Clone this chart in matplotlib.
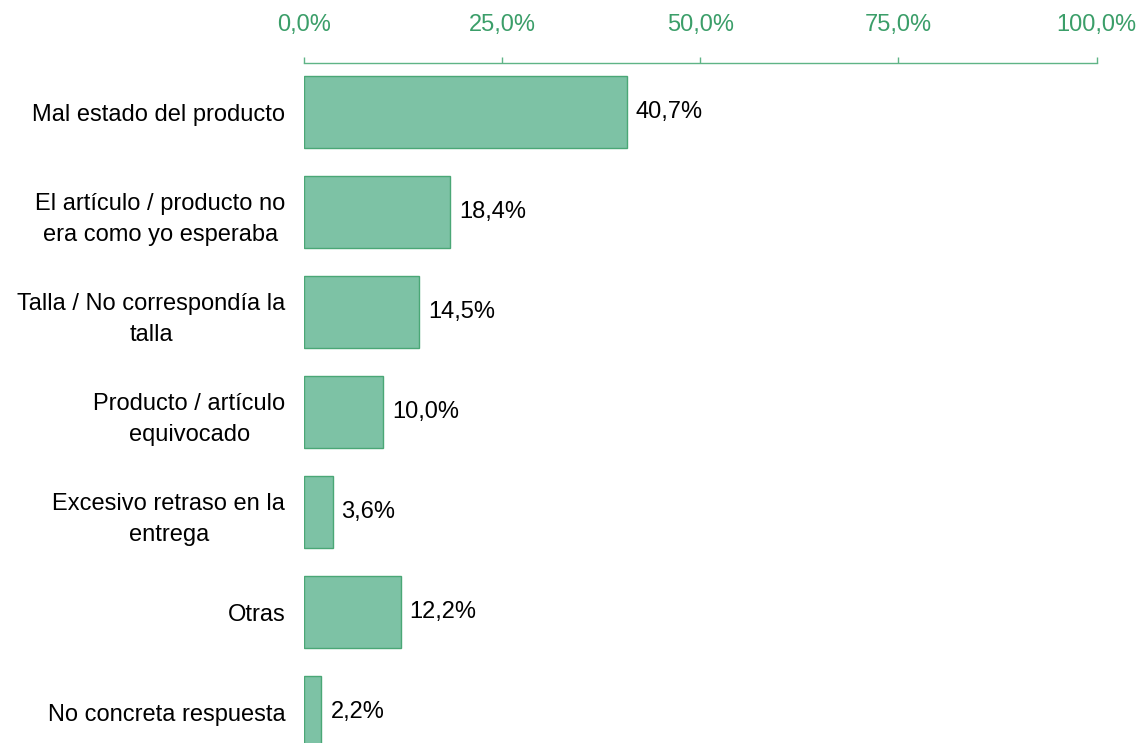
import matplotlib.pyplot as plt
from matplotlib.ticker import FuncFormatter

plt.rcParams["font.family"] = ["Liberation Sans", "DejaVu Sans"]

motivos = [
    "Mal estado del producto",
    "El artículo / producto no\nera como yo esperaba",
    "Talla / No correspondía la\ntalla",
    "Producto / artículo\nequivocado",
    "Excesivo retraso en la\nentrega",
    "Otras",
    "No concreta respuesta",
]
porcentajes = [40.7, 18.4, 14.5, 10.0, 3.6, 12.2, 2.2]
ticks_x = [0, 25, 50, 75, 100]

verde_texto = "#3b9e69"
verde_eje = "#5fb486"
verde_barra = "#7dc2a5"
verde_borde = "#4aa776"

fig = plt.figure(figsize=(11.42, 7.43), dpi=100)
ax = fig.add_axes([0.2662, 0.0, 0.694, 0.9152])

posiciones = list(range(len(motivos)))
ax.barh(posiciones, porcentajes, height=0.72, color=verde_barra,
        edgecolor=verde_borde, linewidth=1.0)

for y, v in zip(posiciones, porcentajes):
    ax.annotate(f"{v:.1f}%".replace(".", ","), xy=(v, y), xytext=(6.5, 0),
                textcoords="offset points", va="center", ha="left",
                fontsize=17, color="black")

ax.set_xlim(0, 100)
ax.set_ylim(6.31, -0.49)
ax.set_xticks(ticks_x)
ax.xaxis.set_major_formatter(FuncFormatter(lambda v, p: f"{v:.1f}%".replace(".", ",")))
ax.xaxis.tick_top()
ax.tick_params(axis="x", colors=verde_eje, labelcolor=verde_texto,
               labelsize=17, length=4.5, width=1.0, pad=15)

ax.set_yticks(posiciones)
ax.set_yticklabels(motivos, fontsize=17, multialignment="center", linespacing=1.55)
ax.tick_params(axis="y", length=0, pad=13.5)

for lado in ["left", "right", "bottom"]:
    ax.spines[lado].set_visible(False)
ax.spines["top"].set_color(verde_eje)
ax.spines["top"].set_linewidth(1.0)

fig.savefig("out.png", dpi=100)
